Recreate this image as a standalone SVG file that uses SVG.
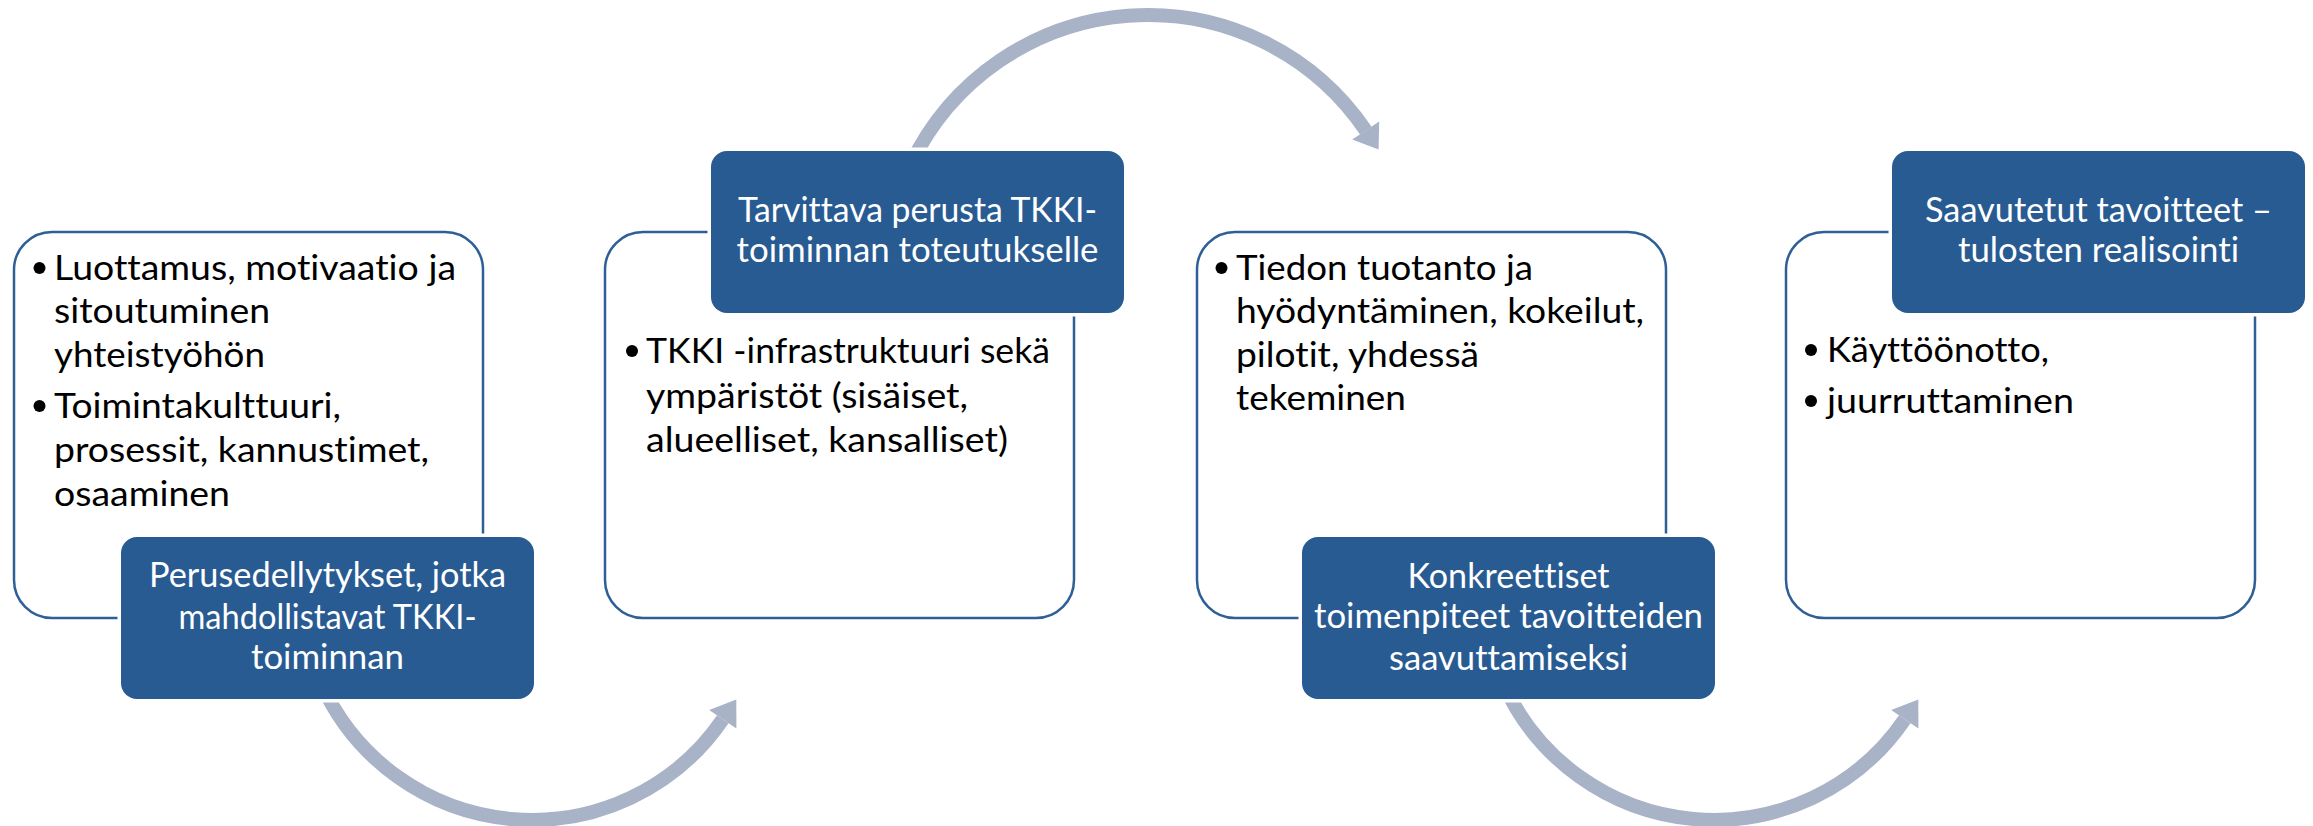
<svg xmlns="http://www.w3.org/2000/svg" width="2313" height="826" viewBox="0 0 2313 826">
<defs>
<style>
.wbox{fill:#ffffff;stroke:#2E5F97;stroke-width:2.5}
.bbox{fill:#285B92;stroke:#ffffff;stroke-width:7;paint-order:stroke}
.arc{fill:none;stroke:#A9B3C8;stroke-width:14}
.head{fill:#A9B3C8}
.t{font-family:Lato,'Noto Sans','Liberation Sans',sans-serif;font-size:34px;fill:#000000;font-variant-ligatures:none}
.bt{font-family:Lato,'Noto Sans','Liberation Sans',sans-serif;font-size:34px;fill:#ffffff;text-anchor:middle;font-variant-ligatures:none}
.dot{fill:#000000}
</style>
</defs>
<rect width="2313" height="826" fill="#ffffff"/>
<g id="connectors">
<path class="arc" d="M 321 682.9 A 231 231 0 0 0 722.8 719.2"/>
<polygon class="head" points="709.2,709.9 736.3,699.4 736.4,728.5"/>
<path class="arc" d="M 910.5 165 A 263 263 0 0 1 1365.8 130.6"/>
<polygon class="head" points="1352.2,139.6 1378.6,149.5 1379.2,121.4"/>
<path class="arc" d="M 1503 682.9 A 231 231 0 0 0 1904.8 719.2"/>
<polygon class="head" points="1891.2,709.9 1918.3,699.4 1918.4,728.5"/>
</g>
<g id="node1">
<rect class="wbox" x="14" y="232" width="469" height="386" rx="38"/>
<circle class="dot" cx="39.5" cy="268" r="6"/>
<circle class="dot" cx="39.5" cy="406" r="6"/>
<text class="t" x="54" y="280" textLength="402" lengthAdjust="spacingAndGlyphs">Luottamus, motivaatio ja</text>
<text class="t" x="54" y="323" textLength="216" lengthAdjust="spacingAndGlyphs">sitoutuminen</text>
<text class="t" x="54" y="367" textLength="211" lengthAdjust="spacingAndGlyphs">yhteistyöhön</text>
<text class="t" x="54" y="418" textLength="287" lengthAdjust="spacingAndGlyphs">Toimintakulttuuri,</text>
<text class="t" x="54" y="462" textLength="375" lengthAdjust="spacingAndGlyphs">prosessit, kannustimet,</text>
<text class="t" x="54" y="506" textLength="176" lengthAdjust="spacingAndGlyphs">osaaminen</text>
<rect class="bbox" x="121" y="537" width="413" height="162" rx="16"/>
<text class="bt" x="327.5" y="587" textLength="357" lengthAdjust="spacingAndGlyphs">Perusedellytykset, jotka</text>
<text class="bt" x="327.5" y="629" textLength="298" lengthAdjust="spacingAndGlyphs">mahdollistavat TKKI-</text>
<text class="bt" x="327.5" y="669" textLength="153" lengthAdjust="spacingAndGlyphs">toiminnan</text>
</g>
<g id="node2">
<rect class="wbox" x="605" y="232" width="469" height="386" rx="38"/>
<circle class="dot" cx="632" cy="351" r="6"/>
<text class="t" x="646" y="363" textLength="404" lengthAdjust="spacingAndGlyphs">TKKI -infrastruktuuri sekä</text>
<text class="t" x="646" y="408" textLength="322" lengthAdjust="spacingAndGlyphs">ympäristöt (sisäiset,</text>
<text class="t" x="646" y="452" textLength="362" lengthAdjust="spacingAndGlyphs">alueelliset, kansalliset)</text>
<rect class="bbox" x="711" y="151" width="413" height="162" rx="16"/>
<text class="bt" x="917.5" y="222" textLength="359" lengthAdjust="spacingAndGlyphs">Tarvittava perusta TKKI-</text>
<text class="bt" x="917.5" y="262" textLength="362" lengthAdjust="spacingAndGlyphs">toiminnan toteutukselle</text>
</g>
<g id="node3">
<rect class="wbox" x="1197" y="232" width="469" height="386" rx="38"/>
<circle class="dot" cx="1221.5" cy="268" r="6"/>
<text class="t" x="1236" y="280" textLength="297" lengthAdjust="spacingAndGlyphs">Tiedon tuotanto ja</text>
<text class="t" x="1236" y="323" textLength="408" lengthAdjust="spacingAndGlyphs">hyödyntäminen, kokeilut,</text>
<text class="t" x="1236" y="367" textLength="243" lengthAdjust="spacingAndGlyphs">pilotit, yhdessä</text>
<text class="t" x="1236" y="410" textLength="170" lengthAdjust="spacingAndGlyphs">tekeminen</text>
<rect class="bbox" x="1302" y="537" width="413" height="162" rx="16"/>
<text class="bt" x="1508.5" y="588" textLength="202" lengthAdjust="spacingAndGlyphs">Konkreettiset</text>
<text class="bt" x="1508.5" y="628" textLength="389" lengthAdjust="spacingAndGlyphs">toimenpiteet tavoitteiden</text>
<text class="bt" x="1508.5" y="670" textLength="239" lengthAdjust="spacingAndGlyphs">saavuttamiseksi</text>
</g>
<g id="node4">
<rect class="wbox" x="1786" y="232" width="469" height="386" rx="38"/>
<circle class="dot" cx="1811" cy="350" r="6"/>
<circle class="dot" cx="1811" cy="401" r="6"/>
<text class="t" x="1827" y="362" textLength="222" lengthAdjust="spacingAndGlyphs">Käyttöönotto,</text>
<text class="t" x="1827" y="413" textLength="247" lengthAdjust="spacingAndGlyphs">juurruttaminen</text>
<rect class="bbox" x="1892" y="151" width="413" height="162" rx="16"/>
<text class="bt" x="2098.5" y="222" textLength="347" lengthAdjust="spacingAndGlyphs">Saavutetut tavoitteet –</text>
<text class="bt" x="2098.5" y="262" textLength="281" lengthAdjust="spacingAndGlyphs">tulosten realisointi</text>
</g>
</svg>
